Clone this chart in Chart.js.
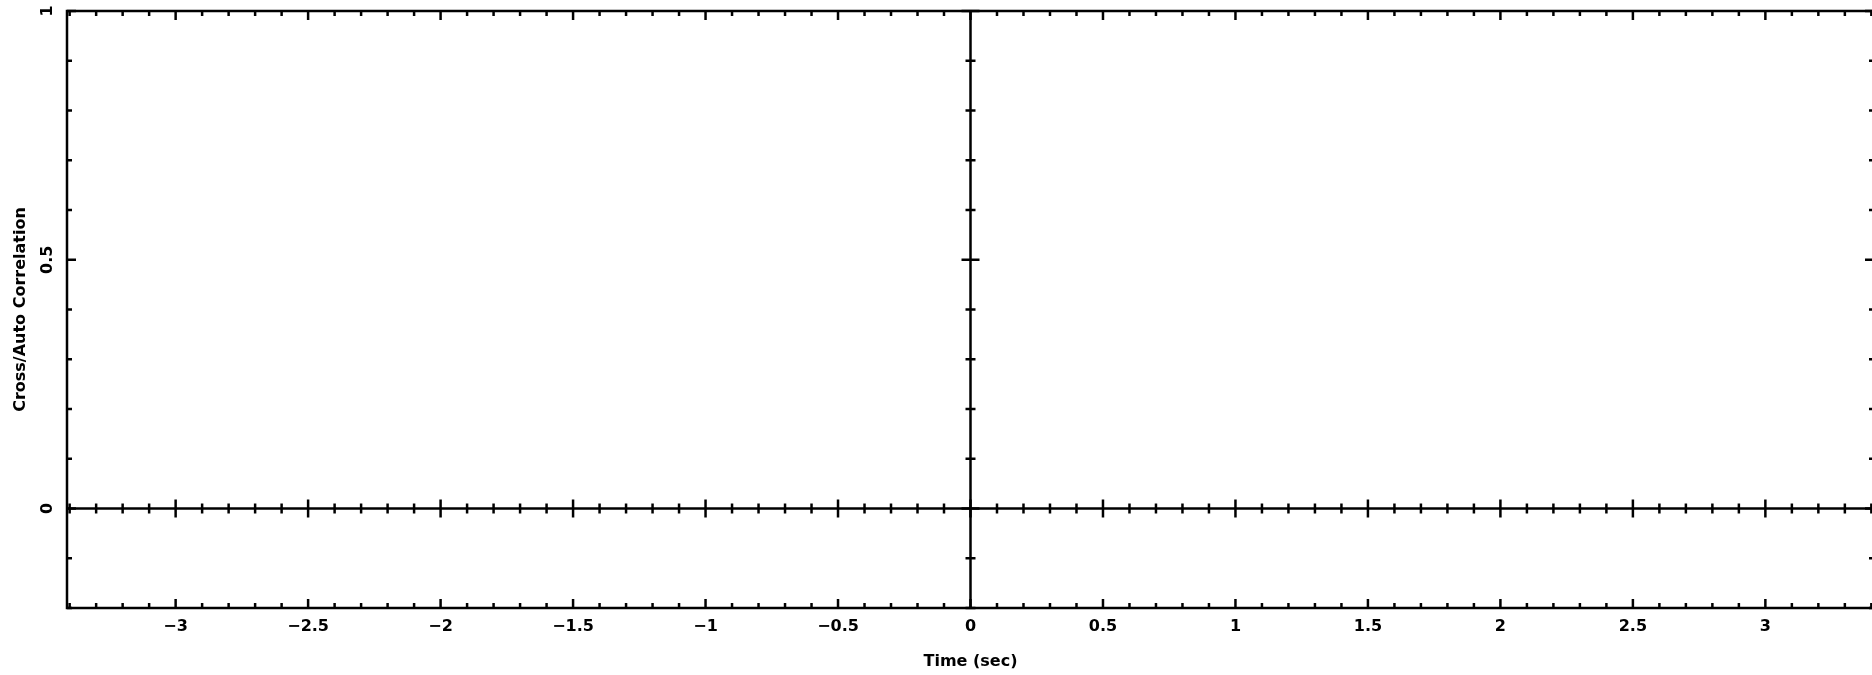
<!DOCTYPE html>
<html lang="en">
<head>
    <meta charset="UTF-8">
    <title>Cross/Auto Correlation</title>
    <script src="https://cdn.jsdelivr.net/npm/chart.js"></script>
    <style>
        html, body {
            margin: 0;
            padding: 0;
            background: #ffffff;
            overflow: hidden;
        }
        /* plot frame runs a couple of pixels past the window on the right, as in the original */
        #wrap {
            width: 1876px;
            height: 675px;
        }
    </style>
</head>
<body>
    <div id="wrap">
        <canvas id="corrChart"></canvas>
    </div>
    <script>
        // Data (the correlation curve is empty in this plot)
        var lagTimes = [];
        var correlation = [];

        // Axis ranges
        var xRange = [-3.41, 3.41];
        var yRange = [-0.2, 1];

        // Tick labels
        var xTickValues = [-3, -2.5, -2, -1.5, -1, -0.5, 0, 0.5, 1, 1.5, 2, 2.5, 3];
        var xTickLabels = ['\u22123', '\u22122.5', '\u22122', '\u22121.5', '\u22121', '\u22120.5', '0', '0.5', '1', '1.5', '2', '2.5', '3'];
        var yTickValues = [0, 0.5, 1];
        var yTickLabels = ['0', '0.5', '1'];
        var xMinorStep = 0.1;
        var yMinorStep = 0.1;

        var xTitle = 'Time (sec)';
        var yTitle = 'Cross/Auto Correlation';

        var tickFont = 'bold 16px "DejaVu Sans", sans-serif';
        var titleFont = 'bold 16px "DejaVu Sans", sans-serif';

        function isMajor(v) {
            return Math.abs(v * 2 - Math.round(v * 2)) < 1e-6;
        }

        // Inward ticks on the frame and on the zero lines, PGPLOT style
        var framePlugin = {
            id: 'framePlugin',
            afterDraw: function (chart) {
                var ctx = chart.ctx;
                var a = chart.chartArea;
                var xs = chart.scales.x;
                var ys = chart.scales.y;
                var x0 = xs.getPixelForValue(0);
                var y0 = ys.getPixelForValue(0);

                function seg(x1, y1, x2, y2) {
                    ctx.beginPath();
                    ctx.moveTo(x1, y1);
                    ctx.lineTo(x2, y2);
                    ctx.stroke();
                }

                ctx.save();
                ctx.strokeStyle = '#000000';
                ctx.lineWidth = 2.5;
                ctx.lineCap = 'butt';

                ctx.strokeRect(a.left, a.top, a.right - a.left, a.bottom - a.top);
                seg(x0, a.top, x0, a.bottom);
                seg(a.left, y0, a.right, y0);

                // x ticks
                var n = Math.ceil(xRange[0] / xMinorStep);
                for (var i = n; i * xMinorStep <= xRange[1] + 1e-9; i++) {
                    var v = Math.round(i * xMinorStep * 10) / 10;
                    var px = xs.getPixelForValue(v);
                    var len = isMajor(v) ? 9 : 5;
                    seg(px, a.bottom, px, a.bottom - len);
                    seg(px, a.top, px, a.top + len);
                    seg(px, y0 - len, px, y0 + len);
                }

                // y ticks
                var m = Math.ceil(yRange[0] / yMinorStep);
                for (var j = m; j * yMinorStep <= yRange[1] + 1e-9; j++) {
                    var w = Math.round(j * yMinorStep * 10) / 10;
                    var py = ys.getPixelForValue(w);
                    var ylen = isMajor(w) ? 9 : 5;
                    seg(a.left, py, a.left + ylen, py);
                    seg(a.right, py, a.right - ylen, py);
                    seg(x0 - ylen, py, x0 + ylen, py);
                }

                // tick labels
                ctx.fillStyle = '#000000';
                ctx.font = tickFont;
                ctx.textAlign = 'center';
                ctx.textBaseline = 'middle';
                xTickValues.forEach(function (v, k) {
                    ctx.fillText(xTickLabels[k], xs.getPixelForValue(v), a.bottom + 19);
                });
                yTickValues.forEach(function (v, k) {
                    ctx.save();
                    ctx.translate(a.left - 20, ys.getPixelForValue(v));
                    ctx.rotate(-Math.PI / 2);
                    ctx.fillText(yTickLabels[k], 0, 1);
                    ctx.restore();
                });

                // axis titles
                ctx.font = titleFont;
                ctx.fillText(xTitle, x0, a.bottom + 54);
                ctx.save();
                ctx.translate(20, (a.top + a.bottom) / 2);
                ctx.rotate(-Math.PI / 2);
                ctx.fillText(yTitle, 0, 1);
                ctx.restore();

                ctx.restore();
            }
        };

        var points = lagTimes.map(function (t, k) {
            return { x: t, y: correlation[k] };
        });

        var ctx = document.getElementById('corrChart').getContext('2d');
        new Chart(ctx, {
            type: 'scatter',
            data: {
                datasets: [{
                    label: 'Correlation',
                    data: points,
                    showLine: true,
                    borderColor: '#000000',
                    borderWidth: 2,
                    pointRadius: 0
                }]
            },
            options: {
                responsive: true,
                maintainAspectRatio: false,
                animation: false,
                layout: {
                    padding: { left: 67, top: 11, right: 2, bottom: 67 }
                },
                plugins: {
                    legend: { display: false },
                    tooltip: { enabled: false }
                },
                scales: {
                    x: { type: 'linear', min: xRange[0], max: xRange[1], display: false },
                    y: { type: 'linear', min: yRange[0], max: yRange[1], display: false }
                }
            },
            plugins: [framePlugin]
        });
    </script>
</body>
</html>
